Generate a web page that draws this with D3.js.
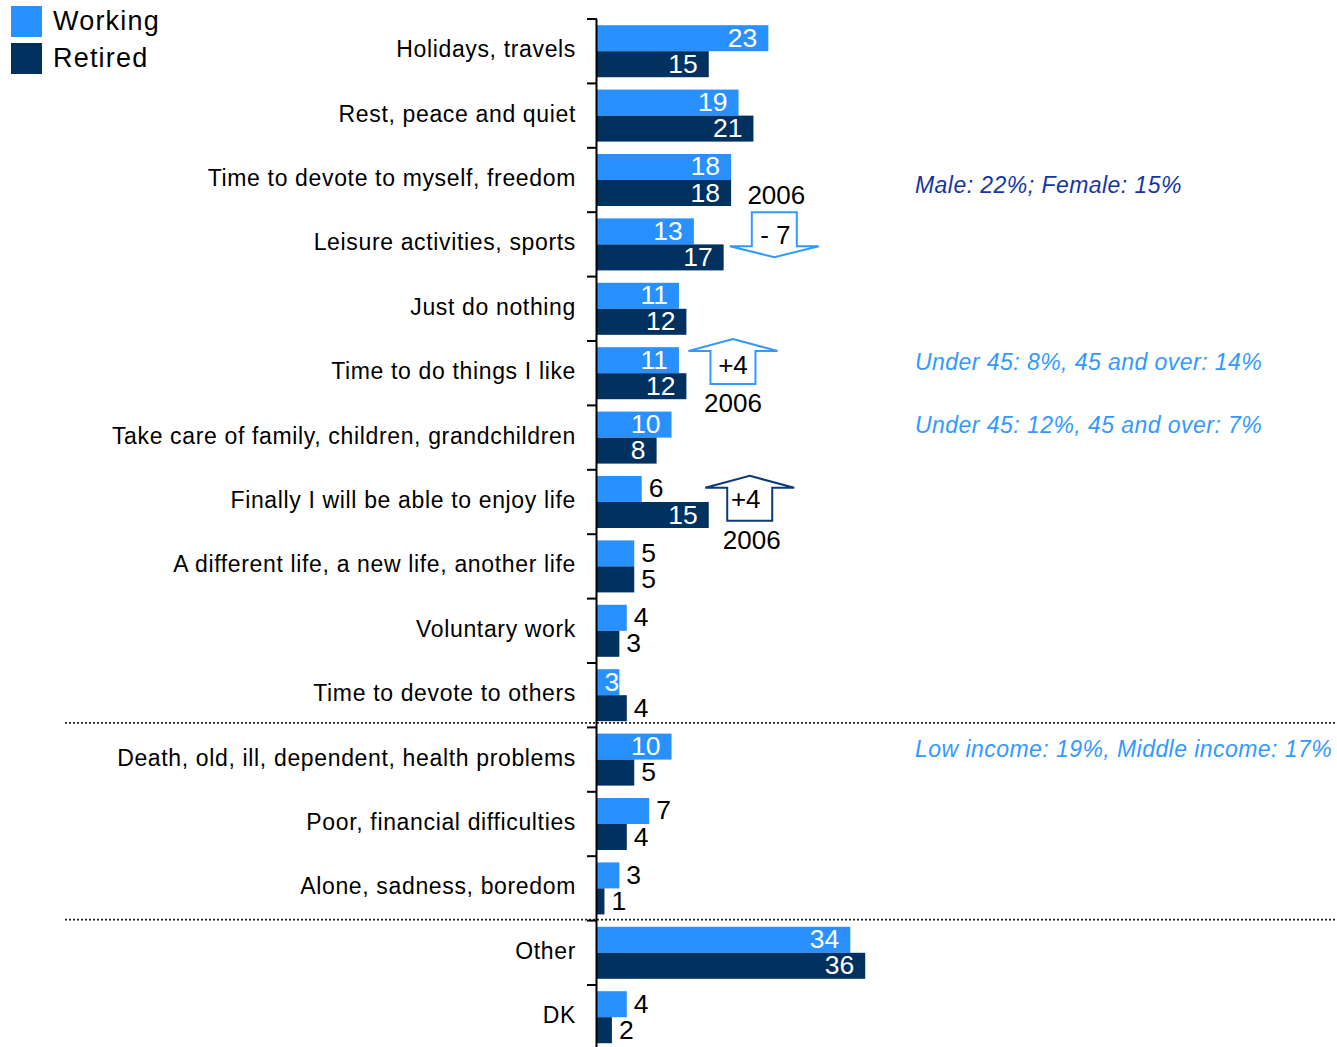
<!DOCTYPE html>
<html>
<head>
<meta charset="utf-8">
<script src="https://cdn.jsdelivr.net/npm/d3@7/dist/d3.min.js"></script>
<style>
  html, body { margin: 0; padding: 0; background: #fff; }
  svg { display: block; font-family: "Liberation Sans", Arial, sans-serif; }
</style>
</head>
<body>
<svg id="chart" width="1337" height="1047"></svg>
<script>
const categories = [
  "Holidays, travels",
  "Rest, peace and quiet",
  "Time to devote to myself, freedom",
  "Leisure activities, sports",
  "Just do nothing",
  "Time to do things I like",
  "Take care of family, children, grandchildren",
  "Finally I will be able to enjoy life",
  "A different life, a new life, another life",
  "Voluntary work",
  "Time to devote to others",
  "Death, old, ill, dependent, health problems",
  "Poor, financial difficulties",
  "Alone, sadness, boredom",
  "Other",
  "DK"
];
const seriesNames = ["Working", "Retired"];
const working = [23, 19, 18, 13, 11, 11, 10, 6, 5, 4, 3, 10, 7, 3, 34, 4];
const retired = [15, 21, 18, 17, 12, 12, 8, 15, 5, 3, 4, 5, 4, 1, 36, 2];
const colors = { Working: "#2990ff", Retired: "#00315f" };

const separatorsBefore = ["Death, old, ill, dependent, health problems", "Other"];

const sideNotes = [
  { cat: "Time to devote to myself, freedom", text: "Male: 22%; Female: 15%", color: "#1535a5", dy: 13 },
  { cat: "Time to do things I like", text: "Under 45: 8%, 45 and over: 14%", color: "#3399ff", dy: -3 },
  { cat: "Take care of family, children, grandchildren", text: "Under 45: 12%, 45 and over: 7%", color: "#3399ff", dy: -4.5 },
  { cat: "Death, old, ill, dependent, health problems", text: "Low income: 19%, Middle income: 17%", color: "#3399ff", dy: -2.5 }
];

const arrows = [
  { cat: "Leisure activities, sports", dir: "down", at: 23.8, label: "- 7", year: "2006", color: "#3399ff" },
  { cat: "Time to do things I like", dir: "up", at: 18.25, label: "+4", year: "2006", color: "#3399ff" },
  { cat: "Finally I will be able to enjoy life", dir: "up", at: 20.5, label: "+4", year: "2006", color: "#0b3a78" }
];

const data = categories.map((c, i) => ({ cat: c, Working: working[i], Retired: retired[i] }));

const svg = d3.select("#chart");
const x0 = 597;
const x = d3.scaleLinear().domain([0, 36]).range([x0, x0 + 36 * 7.45]);
const y = d3.scaleBand().domain(categories).range([19, 19 + 16 * 64.4]).padding(0);
const ySub = d3.scaleBand().domain(seriesNames).range([0, y.bandwidth()]).paddingInner(0).paddingOuter(0.238);

// separators (dotted)
separatorsBefore.forEach((c, k) => {
  const yy = y(c) - (k === 0 ? 4.5 : 1);
  svg.append("line")
    .attr("x1", 65).attr("x2", 1337).attr("y1", yy).attr("y2", yy)
    .attr("stroke", "#222").attr("stroke-width", 1.6).attr("stroke-dasharray", "2,2");
});

// bars
const groups = svg.selectAll("g.cat").data(data).join("g").attr("class", "cat")
  .attr("transform", d => `translate(0,${y(d.cat)})`);

groups.selectAll("rect").data(d => seriesNames.map(s => ({ s, v: d[s], cat: d.cat })))
  .join("rect")
  .attr("x", x(0))
  .attr("y", d => ySub(d.s))
  .attr("width", d => x(d.v) - x(0))
  .attr("height", ySub.bandwidth())
  .attr("fill", d => colors[d.s]);

// value labels
groups.selectAll("text.val").data(d => seriesNames.map(s => ({ s, v: d[s], cat: d.cat })))
  .join("text")
  .attr("class", "val")
  .attr("font-size", 26.5)
  .each(function(d) {
    const t = d3.select(this).text(d.v);
    const inside = d.v >= 8 || (d.s === "Working" && d.cat === "Time to devote to others");
    const yy = ySub(d.s) + ySub.bandwidth() / 2 + 8.5;
    const end = x(d.v);
    if (inside) {
      const tw = this.getComputedTextLength();
      const barW = end - x(0);
      const pad = Math.max(0, Math.min(11, barW - tw - 8));
      t.attr("x", end - pad).attr("y", yy).attr("text-anchor", "end").attr("fill", "#fff");
    } else {
      t.attr("x", end + 7).attr("y", yy).attr("text-anchor", "start").attr("fill", "#000");
    }
  });

// category labels
svg.selectAll("text.cat").data(categories).join("text")
  .attr("class", "cat")
  .attr("x", 576)
  .attr("y", d => y(d) + y.bandwidth() / 2 + 6)
  .attr("text-anchor", "end")
  .attr("font-size", 23)
  .attr("letter-spacing", 0.65)
  .attr("fill", "#000")
  .text(d => d);

// axis line and ticks at band boundaries
svg.append("line").attr("x1", 596.5).attr("x2", 596.5).attr("y1", 19).attr("y2", 1047)
  .attr("stroke", "#000").attr("stroke-width", 2);
const bounds = categories.map(c => y(c)).concat([y.range()[1]]);
svg.selectAll("line.tick").data(bounds).join("line").attr("class", "tick")
  .attr("x1", 587).attr("x2", 597).attr("y1", d => d).attr("y2", d => d)
  .attr("stroke", "#000").attr("stroke-width", 2);

// legend
seriesNames.forEach((s, i) => {
  svg.append("rect").attr("x", 11).attr("y", 6 + i * 37).attr("width", 31).attr("height", 31).attr("fill", colors[s]);
  svg.append("text").attr("x", 53).attr("y", 30 + i * 37).attr("font-size", 27).attr("letter-spacing", 1.2)
    .attr("fill", "#000").text(s);
});

// side notes
sideNotes.forEach(n => {
  svg.append("text").attr("x", 915).attr("y", y(n.cat) + y.bandwidth() / 2 + n.dy)
    .attr("font-size", 23).attr("letter-spacing", 0.45).attr("font-style", "italic").attr("fill", n.color).text(n.text);
});

// arrows
arrows.forEach(a => {
  const cx = x(a.at);
  const top = y(a.cat);
  const sw = 22.5, hw = 44.5;
  let pts, labelY, yearY, yearX;
  if (a.dir === "down") {
    const t = top, wing = t + 34, tip = t + 45;
    pts = [[cx - sw, t], [cx + sw, t], [cx + sw, wing], [cx + hw, wing], [cx, tip], [cx - hw, wing], [cx - sw, wing]];
    labelY = t + 32; yearX = cx + 2; yearY = t - 8.5;
  } else {
    const tip = top - 2 + (a.color === "#0b3a78" ? 8 : 0), wing = tip + 12, bot = tip + 45;
    pts = [[cx, tip], [cx + hw, wing], [cx + sw, wing], [cx + sw, bot], [cx - sw, bot], [cx - sw, wing], [cx - hw, wing]];
    labelY = tip + (a.color === "#0b3a78" ? 32 : 35); yearX = cx + (a.color === "#0b3a78" ? 2 : 0); yearY = bot + 28;
  }
  svg.append("polygon").attr("points", pts.map(p => p.join(",")).join(" "))
    .attr("fill", "#fff").attr("stroke", a.color).attr("stroke-width", 2);
  svg.append("text").attr("x", cx + (a.dir === "down" ? 1 : (a.color === "#0b3a78" ? -4 : 0))).attr("y", labelY)
    .attr("text-anchor", "middle").attr("font-size", 26).attr("fill", "#000").text(a.label);
  svg.append("text").attr("x", yearX).attr("y", yearY)
    .attr("text-anchor", "middle").attr("font-size", 26).attr("fill", "#000").text(a.year);
});
</script>
</body>
</html>
